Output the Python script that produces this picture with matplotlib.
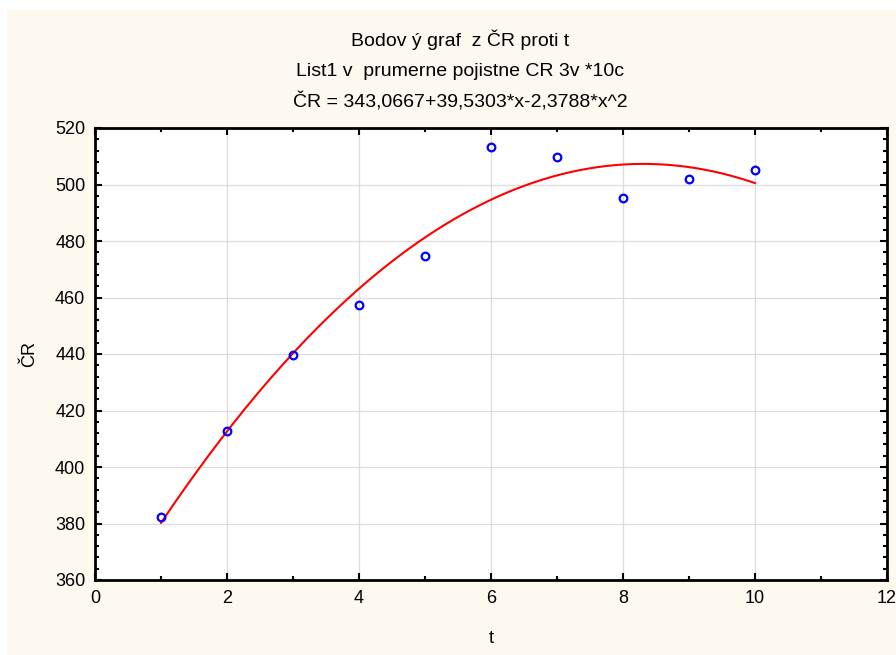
import numpy as np
import matplotlib
matplotlib.use('Agg')
import matplotlib.pyplot as plt
from matplotlib.patches import Rectangle
from matplotlib.ticker import MultipleLocator

plt.rcParams['font.family'] = ['Liberation Sans', 'DejaVu Sans']

# ── Data ────────────────────────────────────────────────────
t = [1, 2, 3, 4, 5, 6, 7, 8, 9, 10]
cr = [382.3, 412.7, 439.6, 457.3, 474.7, 513.3, 509.7, 495.2, 502.0, 505.1]

# quadratic fit coefficients, as printed in the title
coef = [343.0667, 39.5303, -2.3788]

titles = ["Bodov ý graf  z ČR proti t",
          "List1 v  prumerne pojistne CR 3v *10c",
          "ČR = 343,0667+39,5303*x-2,3788*x^2"]

W, H = 896, 655
fig = plt.figure(figsize=(W / 100, H / 100), dpi=100, facecolor='white')

# cream background panel
fig.patches.append(Rectangle((7 / W, 0), 1, 1 - 10 / H, transform=fig.transFigure,
                             facecolor='#fdf9ee', edgecolor='none', zorder=-10))

ax = fig.add_axes([95 / W, 1 - 580 / H, (887 - 95) / W, (580 - 128) / H])
ax.set_facecolor('white')

# fitted curve
xs = np.linspace(min(t), max(t), 200)
ys = coef[0] + coef[1] * xs + coef[2] * xs ** 2
ax.plot(xs, ys, color='red', lw=1.5, zorder=3)

ax.plot(t, cr, linestyle='none', marker='o', markersize=5.5,
        markerfacecolor='none', markeredgecolor='blue', markeredgewidth=1.6, zorder=4)

ax.set_xlim(0, 12)
ax.set_ylim(360, 520)
ax.xaxis.set_major_locator(MultipleLocator(2))
ax.xaxis.set_minor_locator(MultipleLocator(1))
ax.yaxis.set_major_locator(MultipleLocator(20))
ax.yaxis.set_minor_locator(MultipleLocator(4))

ax.grid(True, which='major', color='#dcdcdc', lw=0.9, zorder=0)
ax.set_axisbelow(True)

for s in ax.spines.values():
    s.set_linewidth(2)
    s.set_color('black')

ax.tick_params(which='both', direction='in', top=True, right=True,
               labelsize=13, width=1.5, colors='black')
ax.tick_params(which='major', length=5, pad=7)
ax.tick_params(which='minor', length=3)

ax.set_xlabel('t', fontsize=13, labelpad=17)
ax.set_ylabel('ČR', fontsize=13, labelpad=12)

for i, line in enumerate(titles):
    fig.text(460 / W, 1 - (40 + 31 * i) / H, line, ha='center', va='center', fontsize=14)

plt.savefig('out.png', dpi=100, facecolor=fig.get_facecolor())
plt.close()
